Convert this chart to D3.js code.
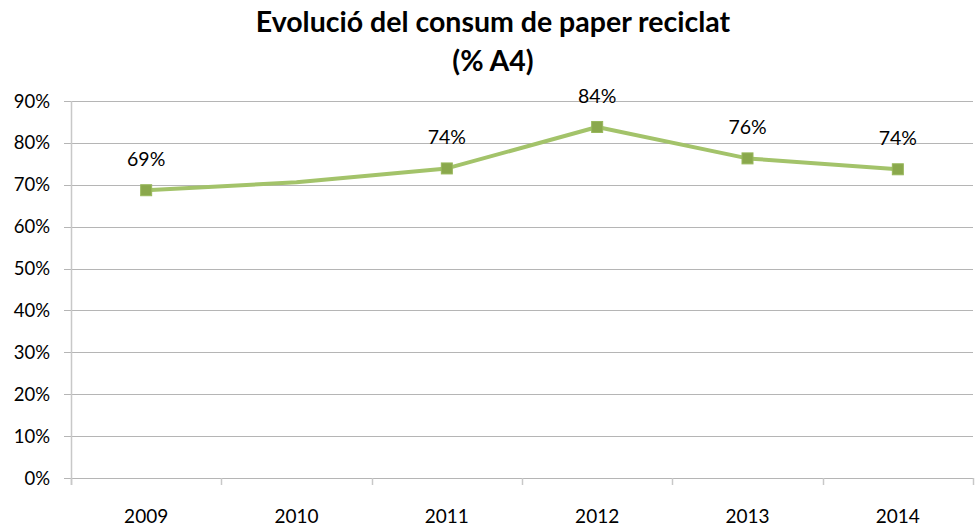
<!DOCTYPE html>
<html>
<head>
<meta charset="utf-8">
<script src="https://cdn.jsdelivr.net/npm/d3@7"></script>
<style>
  body { margin: 0; background: #fff; }
  svg { font-family: Lato, "Open Sans", sans-serif; }
</style>
</head>
<body>
<div id="chart"></div>
<script>
// Dades del gràfic
const anys = ['2009', '2010', '2011', '2012', '2013', '2014'];
const valors = [68.7, 70.6, 73.9, 83.8, 76.3, 73.7];
const etiquetes = ['69%', '', '74%', '84%', '76%', '74%'];
const ambMarcador = [true, false, true, true, true, true];
const ticksY = [0, 10, 20, 30, 40, 50, 60, 70, 80, 90];

const width = 980;
const height = 531;
const margin = { top: 101, right: 7, bottom: 53, left: 71 };

const svg = d3.select("#chart")
    .append("svg")
    .attr("width", width)
    .attr("height", height);

// Títol
const titol = svg.append("text")
    .attr("text-anchor", "middle")
    .attr("font-weight", "bold")
    .attr("font-size", 28.5)
    .attr("fill", "#000");
titol.append("tspan").attr("x", 493).attr("y", 32).text("Evolució del consum de paper reciclat");
titol.append("tspan").attr("x", 493).attr("y", 71).text("(% A4)");

const x = d3.scaleBand()
    .domain(anys)
    .range([margin.left, width - margin.right]);

const y = d3.scaleLinear()
    .domain([0, 90])
    .range([height - margin.bottom, margin.top]);

// Línies de quadrícula
svg.append("g")
    .selectAll("line")
    .data(ticksY)
    .enter().append("line")
    .attr("x1", margin.left - 7)
    .attr("x2", width - margin.right)
    .attr("y1", d => Math.round(y(d)) + 0.5)
    .attr("y2", d => Math.round(y(d)) + 0.5)
    .attr("stroke", "#b5b5b5")
    .attr("stroke-width", 1.2);

// Eix Y
svg.append("line")
    .attr("x1", margin.left + 0.5)
    .attr("x2", margin.left + 0.5)
    .attr("y1", y(90))
    .attr("y2", y(0) + 7)
    .attr("stroke", "#c8c8c8")
    .attr("stroke-width", 1.5);

svg.append("g")
    .selectAll("text")
    .data(ticksY)
    .enter().append("text")
    .attr("x", 50)
    .attr("y", d => y(d) + 6.5)
    .attr("text-anchor", "end")
    .attr("font-size", 18.5)
    .attr("fill", "#000")
    .text(d => d + "%");

// Eix X
const vores = anys.map(d => x(d)).concat([x.range()[1]]);
svg.append("g")
    .selectAll("line")
    .data(vores)
    .enter().append("line")
    .attr("x1", d => Math.round(d) + 0.5)
    .attr("x2", d => Math.round(d) + 0.5)
    .attr("y1", y(0))
    .attr("y2", y(0) + 7)
    .attr("stroke", "#c8c8c8")
    .attr("stroke-width", 1.5);

svg.append("g")
    .selectAll("text")
    .data(anys)
    .enter().append("text")
    .attr("x", d => x(d) + x.bandwidth() / 2)
    .attr("y", 523)
    .attr("text-anchor", "middle")
    .attr("font-size", 19)
    .attr("fill", "#000")
    .text(d => d);

// Sèrie
const punts = anys.map((a, i) => ({ any: a, valor: valors[i], etiqueta: etiquetes[i], marca: ambMarcador[i] }));

const linia = d3.line()
    .x(d => x(d.any) + x.bandwidth() / 2)
    .y(d => y(d.valor));

svg.append("path")
    .datum(punts)
    .attr("d", linia)
    .attr("fill", "none")
    .attr("stroke", "#a3c36a")
    .attr("stroke-width", 4)
    .attr("stroke-linejoin", "round");

svg.append("g")
    .selectAll("rect")
    .data(punts.filter(d => d.marca))
    .enter().append("rect")
    .attr("x", d => x(d.any) + x.bandwidth() / 2 - 5.5)
    .attr("y", d => y(d.valor) - 5.5)
    .attr("width", 11)
    .attr("height", 11)
    .attr("fill", "#8aa84c")
    .attr("stroke", "#98b85c")
    .attr("stroke-width", 1);

svg.append("g")
    .selectAll("text")
    .data(punts.filter(d => d.etiqueta))
    .enter().append("text")
    .attr("x", d => x(d.any) + x.bandwidth() / 2)
    .attr("y", d => y(d.valor) - 24)
    .attr("text-anchor", "middle")
    .attr("font-size", 19.5)
    .attr("fill", "#000")
    .text(d => d.etiqueta);
</script>
</body>
</html>
